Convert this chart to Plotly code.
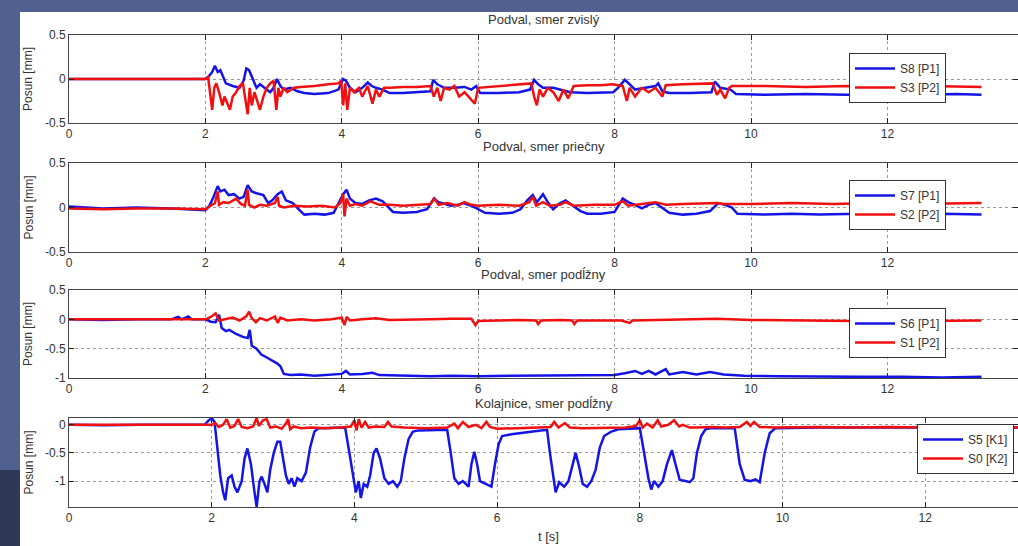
import plotly.graph_objects as go

# ---------------- data ----------------
titles = ["Podval, smer zvislý", "Podval, smer priečny", "Podval, smer podĺžny", "Kolajnice, smer podĺžny"]
names_blue = ["S8 [P1]", "S7 [P1]", "S6 [P1]", "S5 [K1]"]
names_red = ["S3 [P2]", "S2 [P2]", "S1 [P2]", "S0 [K2]"]

x_ticks = [0, 2, 4, 6, 8, 10, 12]
x_ticktext = ["0", "2", "4", "6", "8", "10", "12"]
y_ticks = [[-0.5, 0, 0.5], [-0.5, 0, 0.5], [-1, -0.5, 0, 0.5], [-1, -0.5, 0]]
y_ticktext = [["-0.5", "0", "0.5"], ["-0.5", "0", "0.5"], ["-1", "-0.5", "0", "0.5"], ["-1", "-0.5", "0"]]

s8 = [(0, 0), (0.5, 0), (1.0, 0.0), (1.5, 0.0), (2.0, 0), (2.05, 0.03), (2.1, 0.08), (2.14, 0.15), (2.18, 0.08), (2.22, 0.1),
      (2.3, -0.05), (2.4, -0.08), (2.5, -0.1), (2.56, -0.02), (2.6, 0.12), (2.64, 0.1), (2.7, -0.02), (2.75, -0.1),
      (2.8, -0.06), (2.9, -0.12), (2.95, -0.15), (3.0, -0.1), (3.05, 0.0), (3.1, -0.08), (3.15, -0.12), (3.25, -0.1),
      (3.35, -0.14), (3.45, -0.16), (3.6, -0.17), (3.8, -0.16), (3.95, -0.12), (4.02, 0.0), (4.06, -0.02), (4.12, -0.1),
      (4.2, -0.15), (4.3, -0.1), (4.38, -0.04), (4.44, -0.08), (4.5, -0.1), (4.6, -0.12), (4.7, -0.16), (4.9, -0.16),
      (5.1, -0.15), (5.3, -0.14), (5.34, -0.01), (5.4, -0.06), (5.5, -0.1), (5.65, -0.1), (5.8, -0.09), (5.9, -0.12),
      (5.97, -0.08), (6.03, -0.16), (6.3, -0.16), (6.6, -0.15), (6.76, -0.12), (6.82, -0.01), (6.88, -0.06), (6.95, -0.1),
      (7.1, -0.1), (7.25, -0.13), (7.35, -0.15), (7.6, -0.16), (7.98, -0.15), (8.05, -0.1), (8.15, -0.01), (8.22, -0.06),
      (8.3, -0.12), (8.45, -0.1), (8.6, -0.08), (8.64, -0.05), (8.7, -0.14), (8.8, -0.16), (9.1, -0.16), (9.42, -0.15),
      (9.47, -0.03), (9.55, -0.1), (9.7, -0.12), (9.78, -0.17), (10.2, -0.18), (10.8, -0.17), (11.4, -0.18),
      (12.0, -0.17), (12.6, -0.18), (13.0, -0.17), (13.38, -0.18)]

s3 = [(0, 0), (1.0, 0), (2.0, 0), (2.04, 0.02), (2.08, -0.2), (2.1, -0.35), (2.13, -0.1), (2.16, -0.05), (2.2, -0.15),
      (2.25, -0.3), (2.28, -0.2), (2.32, -0.28), (2.36, -0.35), (2.4, -0.2), (2.45, -0.15), (2.5, -0.08), (2.55, -0.05),
      (2.58, -0.2), (2.62, -0.4), (2.65, -0.1), (2.68, -0.3), (2.72, -0.15), (2.76, -0.25), (2.8, -0.35), (2.85, -0.2),
      (2.9, -0.1), (2.95, -0.05), (3.0, -0.02), (3.04, -0.35), (3.07, -0.1), (3.1, -0.2), (3.15, -0.1), (3.2, -0.15),
      (3.3, -0.1), (3.4, -0.09), (3.6, -0.08), (3.8, -0.06), (3.95, -0.05), (3.99, -0.02), (4.02, -0.3), (4.05, -0.05),
      (4.08, -0.35), (4.12, -0.1), (4.18, -0.15), (4.25, -0.1), (4.3, -0.2), (4.38, -0.08), (4.45, -0.28), (4.5, -0.12),
      (4.55, -0.2), (4.62, -0.1), (4.7, -0.1), (4.9, -0.09), (5.1, -0.09), (5.3, -0.08), (5.35, -0.2), (5.4, -0.1),
      (5.45, -0.25), (5.5, -0.1), (5.58, -0.12), (5.65, -0.08), (5.72, -0.2), (5.8, -0.15), (5.88, -0.22), (5.95, -0.28),
      (6.0, -0.1), (6.3, -0.08), (6.6, -0.06), (6.78, -0.05), (6.82, -0.2), (6.86, -0.3), (6.9, -0.12), (6.95, -0.2),
      (7.02, -0.1), (7.1, -0.15), (7.18, -0.25), (7.25, -0.12), (7.32, -0.22), (7.4, -0.08), (7.6, -0.07), (7.8, -0.07),
      (7.97, -0.06), (8.12, -0.08), (8.18, -0.25), (8.22, -0.1), (8.3, -0.2), (8.4, -0.1), (8.5, -0.15), (8.6, -0.1),
      (8.7, -0.2), (8.75, -0.07), (9.0, -0.06), (9.44, -0.05), (9.5, -0.18), (9.55, -0.12), (9.62, -0.22), (9.68, -0.1),
      (9.72, -0.08), (10.2, -0.08), (10.8, -0.09), (11.4, -0.08), (12.0, -0.09), (12.6, -0.08), (13.38, -0.09)]

s7 = [(0, 0.01), (0.5, -0.01), (1.0, 0.0), (1.5, -0.01), (2.0, -0.03), (2.06, 0.02), (2.12, 0.12), (2.18, 0.24),
      (2.22, 0.18), (2.28, 0.2), (2.34, 0.14), (2.42, 0.15), (2.5, 0.1), (2.56, 0.12), (2.62, 0.25), (2.68, 0.18),
      (2.75, 0.16), (2.85, 0.14), (2.92, 0.05), (2.98, 0.08), (3.06, 0.15), (3.12, 0.18), (3.18, 0.08), (3.28, 0.05),
      (3.38, -0.03), (3.45, -0.08), (3.6, -0.07), (3.75, -0.08), (3.88, -0.06), (3.95, 0.05), (4.02, 0.15), (4.07, 0.2),
      (4.12, 0.1), (4.2, 0.05), (4.3, 0.04), (4.4, 0.08), (4.5, 0.1), (4.6, 0.07), (4.68, 0.0), (4.75, -0.05),
      (4.9, -0.06), (5.1, -0.05), (5.25, -0.02), (5.35, 0.1), (5.42, 0.06), (5.5, 0.04), (5.6, 0.02), (5.7, 0.03),
      (5.78, 0.05), (5.9, 0.02), (6.0, -0.02), (6.1, -0.06), (6.3, -0.07), (6.5, -0.06), (6.62, -0.02), (6.72, 0.08),
      (6.8, 0.14), (6.86, 0.06), (6.95, 0.15), (7.02, 0.06), (7.1, -0.02), (7.18, 0.04), (7.28, 0.08), (7.4, 0.02),
      (7.5, -0.04), (7.6, -0.07), (7.8, -0.07), (8.0, -0.05), (8.12, 0.1), (8.2, 0.06), (8.3, 0.03), (8.4, -0.01),
      (8.5, 0.03), (8.6, 0.05), (8.7, 0.0), (8.8, -0.06), (9.0, -0.08), (9.2, -0.07), (9.4, -0.04), (9.52, 0.05),
      (9.62, 0.03), (9.72, 0.0), (9.8, -0.07), (10.2, -0.08), (10.6, -0.07), (11.0, -0.08), (11.6, -0.07),
      (12.2, -0.08), (12.8, -0.07), (13.38, -0.08)]

s2 = [(0, -0.01), (0.5, -0.02), (1.0, -0.01), (1.5, -0.01), (2.0, -0.02), (2.08, 0.02), (2.14, 0.05), (2.18, 0.18),
      (2.2, 0.03), (2.26, 0.06), (2.34, 0.05), (2.45, 0.1), (2.52, 0.04), (2.58, 0.02), (2.62, 0.2), (2.64, 0.03),
      (2.72, 0.0), (2.8, 0.03), (2.9, 0.02), (3.02, 0.05), (3.06, 0.12), (3.08, 0.02), (3.15, 0.0), (3.3, 0.02),
      (3.5, 0.01), (3.7, 0.02), (3.9, 0.0), (3.98, 0.05), (4.02, 0.15), (4.04, -0.1), (4.07, 0.1), (4.12, 0.02),
      (4.2, 0.04), (4.3, 0.02), (4.42, 0.07), (4.55, 0.03), (4.7, 0.03), (4.9, 0.02), (5.1, 0.03), (5.3, 0.04),
      (5.36, 0.1), (5.42, 0.03), (5.55, 0.05), (5.7, 0.02), (5.8, 0.06), (5.9, 0.03), (6.0, 0.02), (6.3, 0.03),
      (6.6, 0.02), (6.75, 0.06), (6.8, 0.12), (6.85, 0.02), (6.95, 0.06), (7.05, 0.02), (7.2, 0.03), (7.28, 0.06),
      (7.4, 0.02), (7.7, 0.03), (8.0, 0.03), (8.12, 0.07), (8.2, 0.02), (8.4, 0.04), (8.6, 0.06), (8.75, 0.03),
      (9.0, 0.04), (9.5, 0.05), (9.6, 0.04), (10.0, 0.04), (10.6, 0.05), (11.2, 0.04), (11.8, 0.05), (12.4, 0.04),
      (13.38, 0.05)]

s6 = [(0, 0), (0.5, -0.01), (1.0, 0.0), (1.5, 0.0), (1.6, 0.04), (1.65, 0.0), (1.75, 0.05), (1.8, 0.0), (2.0, 0.0),
      (2.08, -0.04), (2.15, -0.05), (2.2, 0.08), (2.24, -0.15), (2.3, -0.2), (2.35, -0.18), (2.45, -0.25), (2.55, -0.3),
      (2.62, -0.32), (2.65, -0.18), (2.68, -0.45), (2.75, -0.5), (2.82, -0.6), (2.9, -0.65), (2.98, -0.7), (3.05, -0.75),
      (3.1, -0.8), (3.15, -0.93), (3.25, -0.95), (3.4, -0.94), (3.6, -0.96), (3.8, -0.95), (4.0, -0.93), (4.06, -0.88),
      (4.12, -0.94), (4.3, -0.93), (4.45, -0.91), (4.55, -0.95), (4.8, -0.96), (5.0, -0.96), (5.3, -0.97), (5.6, -0.96),
      (6.0, -0.97), (6.5, -0.96), (7.0, -0.96), (7.5, -0.96), (8.0, -0.95), (8.15, -0.92), (8.3, -0.88), (8.4, -0.93),
      (8.5, -0.88), (8.6, -0.94), (8.75, -0.85), (8.8, -0.94), (9.0, -0.9), (9.2, -0.94), (9.4, -0.9), (9.6, -0.94),
      (9.9, -0.96), (10.4, -0.97), (11.0, -0.98), (11.6, -0.98), (12.2, -0.98), (12.8, -0.99), (13.38, -0.98)]

s1 = [(0, 0), (0.5, 0.0), (1.0, -0.01), (1.5, 0.0), (2.0, 0.0), (2.08, 0.04), (2.15, 0.1), (2.2, -0.02), (2.3, 0.0),
      (2.4, 0.03), (2.5, -0.02), (2.6, 0.05), (2.64, 0.13), (2.68, 0.02), (2.74, -0.05), (2.8, 0.02), (2.9, -0.02),
      (3.02, 0.05), (3.06, -0.06), (3.1, 0.03), (3.2, -0.02), (3.4, 0.0), (3.6, -0.02), (3.85, 0.0), (4.0, 0.03),
      (4.04, -0.1), (4.07, 0.04), (4.12, -0.02), (4.3, 0.0), (4.5, 0.02), (4.7, -0.01), (5.0, -0.01), (5.3, 0.0),
      (5.6, 0.01), (5.9, 0.01), (5.96, -0.1), (6.0, -0.03), (6.3, -0.02), (6.6, -0.01), (6.85, -0.02), (6.88, -0.08),
      (6.92, -0.02), (7.2, -0.01), (7.38, -0.02), (7.41, -0.08), (7.45, -0.02), (7.8, -0.02), (8.1, -0.02),
      (8.22, -0.06), (8.26, -0.02), (8.6, -0.01), (9.0, 0.0), (9.5, 0.01), (10.0, -0.01), (10.5, -0.02), (11.0, -0.02),
      (11.5, -0.03), (12.0, -0.02), (12.5, -0.03), (13.38, -0.02)]

s5 = [(0, 0.0), (0.5, -0.01), (1.0, 0.0), (1.5, 0.0), (1.9, 0.0), (1.96, 0.08), (2.0, 0.12), (2.04, 0.05), (2.08, -0.4),
      (2.12, -0.9), (2.16, -1.2), (2.19, -1.34), (2.23, -0.95), (2.28, -0.9), (2.32, -1.1), (2.36, -1.2), (2.42, -1.0),
      (2.46, -0.6), (2.5, -0.42), (2.55, -0.7), (2.6, -1.2), (2.63, -1.46), (2.67, -1.0), (2.7, -0.92), (2.74, -1.05),
      (2.78, -1.2), (2.82, -0.8), (2.87, -0.5), (2.92, -0.3), (2.96, -0.3), (3.0, -0.6), (3.04, -0.9), (3.08, -1.05),
      (3.12, -0.95), (3.16, -1.1), (3.2, -0.95), (3.26, -1.0), (3.32, -0.85), (3.38, -0.4), (3.44, -0.12), (3.5, -0.06),
      (3.7, -0.05), (3.87, -0.05), (3.93, -0.5), (3.98, -0.9), (4.02, -1.2), (4.06, -1.0), (4.09, -1.3), (4.13, -1.05),
      (4.18, -1.1), (4.22, -0.9), (4.27, -0.5), (4.31, -0.42), (4.36, -0.6), (4.42, -0.95), (4.48, -1.05), (4.54, -1.0),
      (4.6, -1.1), (4.65, -1.0), (4.7, -0.6), (4.76, -0.25), (4.82, -0.12), (4.9, -0.1), (5.1, -0.1), (5.3, -0.09),
      (5.35, -0.5), (5.4, -0.95), (5.46, -1.05), (5.52, -1.0), (5.6, -1.1), (5.64, -0.7), (5.68, -0.48), (5.72, -0.7),
      (5.76, -1.0), (5.84, -1.05), (5.92, -1.1), (5.97, -0.7), (6.02, -0.35), (6.07, -0.2), (6.2, -0.17), (6.5, -0.12),
      (6.7, -0.09), (6.74, -0.5), (6.79, -1.0), (6.82, -1.2), (6.87, -1.02), (6.94, -1.1), (7.0, -1.0), (7.05, -0.75),
      (7.1, -0.5), (7.15, -0.75), (7.2, -1.05), (7.26, -1.1), (7.32, -1.0), (7.38, -0.8), (7.44, -0.4), (7.5, -0.2),
      (7.6, -0.12), (7.7, -0.08), (7.85, -0.07), (8.0, -0.06), (8.06, -0.5), (8.12, -0.95), (8.16, -1.15), (8.2, -1.0),
      (8.26, -1.1), (8.32, -1.0), (8.38, -0.7), (8.45, -0.45), (8.5, -0.7), (8.56, -0.98), (8.64, -1.0), (8.7, -1.02),
      (8.75, -0.95), (8.8, -0.5), (8.86, -0.2), (8.92, -0.08), (9.0, -0.06), (9.2, -0.06), (9.33, -0.06), (9.4, -0.7),
      (9.47, -0.98), (9.55, -1.0), (9.62, -0.97), (9.68, -1.02), (9.75, -0.5), (9.82, -0.15), (9.9, -0.06),
      (10.5, -0.05), (11.0, -0.05), (11.5, -0.06), (12.0, -0.05), (12.5, -0.05), (13.38, -0.05)]

s0 = [(0, 0.0), (0.5, 0.0), (1.0, -0.01), (1.5, 0.0), (2.0, 0.0), (2.05, 0.03), (2.1, -0.04), (2.16, 0.0), (2.21, 0.1),
      (2.26, -0.05), (2.32, -0.02), (2.37, 0.1), (2.42, -0.04), (2.5, -0.06), (2.58, -0.03), (2.63, 0.12), (2.66, -0.02),
      (2.72, 0.08), (2.77, 0.1), (2.82, -0.05), (2.9, -0.03), (2.98, -0.07), (3.04, 0.02), (3.07, 0.1), (3.1, -0.08),
      (3.15, -0.03), (3.25, -0.06), (3.4, -0.05), (3.6, -0.06), (3.8, -0.05), (3.95, -0.03), (4.0, 0.08), (4.03, -0.1),
      (4.06, 0.1), (4.1, -0.05), (4.15, 0.05), (4.2, -0.05), (4.3, -0.03), (4.42, -0.04), (4.47, 0.05), (4.52, -0.03),
      (4.7, -0.05), (5.0, -0.06), (5.3, -0.05), (5.4, 0.02), (5.45, -0.06), (5.52, 0.05), (5.6, -0.04), (5.7, 0.0),
      (5.78, -0.06), (5.85, 0.05), (5.9, -0.04), (6.0, -0.07), (6.3, -0.06), (6.6, -0.05), (6.75, -0.04), (6.8, 0.05),
      (6.86, -0.05), (6.95, 0.03), (7.02, -0.05), (7.2, -0.06), (7.5, -0.05), (7.8, -0.05), (7.95, -0.02), (8.0, 0.08),
      (8.04, -0.05), (8.1, 0.02), (8.18, -0.05), (8.25, 0.08), (8.3, -0.03), (8.4, 0.0), (8.48, 0.08), (8.55, -0.03),
      (8.6, 0.0), (8.7, -0.05), (8.8, -0.05), (9.0, -0.04), (9.2, -0.05), (9.4, -0.04), (9.5, 0.05), (9.55, -0.02),
      (9.6, 0.05), (9.68, -0.04), (9.9, -0.05), (10.5, -0.04), (11.0, -0.05), (11.5, -0.04), (12.0, -0.05),
      (12.5, -0.04), (13.38, -0.05)]

blue_series = [s8, s7, s6, s5]
red_series = [s3, s2, s1, s0]

# ---------------- layout ----------------
W, H = 1018, 546
BLUE = "#1414e6"
RED = "#f01010"
FONT = "Liberation Sans, Arial, sans-serif"
TXT = "#333333"

def px_x(p):
    return p / W

def px_y(p):
    return 1 - p / H

x_left = 69
plot_tops = [35, 163, 290, 418]
plot_bottoms = [123, 252, 378, 507]
y_ranges = [[-0.5, 0.5], [-0.5, 0.5], [-1, 0.5], [-1.46, 0.12]]
x_ranges = [[0, 13.915], [0, 13.915], [0, 13.915], [0, 13.30]]
title_y = [20, 147, 274, 403]
legend_pos = [(849, 53), (849, 180), (849, 308), (917, 424)]

fig = go.Figure()
layout = dict(
    template="none",
    width=W, height=H,
    margin=dict(l=0, r=0, t=0, b=0, pad=0, autoexpand=False),
    paper_bgcolor="#50608f",
    plot_bgcolor="white",
    font=dict(family=FONT, size=12, color=TXT),
    showlegend=True,
    shapes=[
        dict(type="rect", xref="paper", yref="paper", x0=px_x(20), x1=1.0, y0=0, y1=px_y(12),
             fillcolor="white", line=dict(width=0), layer="below"),
        dict(type="rect", xref="paper", yref="paper", x0=0, x1=px_x(20), y0=0, y1=px_y(470),
             fillcolor="#2f3957", line=dict(width=0), layer="below"),
    ],
    annotations=[],
)

for i in range(4):
    k = "" if i == 0 else str(i + 1)
    xa = "x" + k
    ya = "y" + k
    lg = "legend" + k
    bx = [p[0] for p in blue_series[i]]
    by = [p[1] for p in blue_series[i]]
    rx = [p[0] for p in red_series[i]]
    ry = [p[1] for p in red_series[i]]
    fig.add_trace(go.Scatter(x=bx, y=by, mode="lines", name=names_blue[i], xaxis=xa, yaxis=ya,
                             line=dict(color=BLUE, width=2.5), legend=lg))
    fig.add_trace(go.Scatter(x=rx, y=ry, mode="lines", name=names_red[i], xaxis=xa, yaxis=ya,
                             line=dict(color=RED, width=2.5), legend=lg))
    dom_y = [px_y(plot_bottoms[i]), px_y(plot_tops[i])]
    layout["xaxis" + k] = dict(
        domain=[px_x(x_left), 1.0], anchor=ya, range=x_ranges[i], automargin=False,
        tickvals=x_ticks, ticktext=x_ticktext, ticks="inside", ticklen=5, tickcolor="#222",
        showline=True, linecolor="#444", linewidth=1, mirror="ticks",
        showgrid=True, gridcolor="#9a9a9a", griddash="dot", gridwidth=1, zeroline=False,
        tickfont=dict(family=FONT, size=12, color=TXT),
    )
    layout["yaxis" + k] = dict(
        domain=dom_y, anchor=xa, range=y_ranges[i], automargin=False,
        tickvals=y_ticks[i], ticktext=y_ticktext[i], ticks="inside", ticklen=5, tickcolor="#222",
        showline=True, linecolor="#444", linewidth=1, mirror="ticks",
        showgrid=True, gridcolor="#9a9a9a", griddash="dot", gridwidth=1, zeroline=False,
        tickfont=dict(family=FONT, size=12, color=TXT),
    )
    lx, ly = legend_pos[i]
    layout[lg] = dict(
        x=px_x(lx), y=px_y(ly), xanchor="left", yanchor="top",
        bgcolor="white", bordercolor="#333", borderwidth=1, itemwidth=40,
        font=dict(family=FONT, size=12, color=TXT), tracegroupgap=0,
    )
    layout["annotations"].append(dict(
        text=titles[i], x=0.534, y=px_y(title_y[i]), xref="paper", yref="paper",
        showarrow=False, font=dict(family=FONT, size=13, color=TXT), xanchor="center", yanchor="middle"))
    layout["annotations"].append(dict(
        text="Posun [mm]", x=px_x(28), y=(dom_y[0] + dom_y[1]) / 2, xref="paper", yref="paper",
        showarrow=False, textangle=-90, font=dict(family=FONT, size=12, color=TXT),
        xanchor="center", yanchor="middle"))

layout["annotations"].append(dict(
    text="t [s]", x=px_x(548), y=px_y(536), xref="paper", yref="paper", showarrow=False,
    font=dict(family=FONT, size=13, color=TXT), xanchor="center", yanchor="middle"))

fig.update_layout(**layout)
fig.write_html(
    "out.html",
    config={"displayModeBar": False},
    post_script="document.documentElement.style.overflow='hidden';document.body.style.margin='0';document.body.style.overflow='hidden';",
)
